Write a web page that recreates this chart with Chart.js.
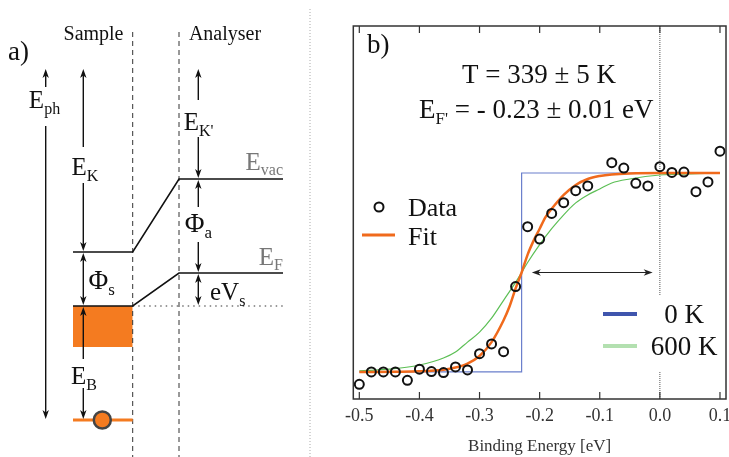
<!DOCTYPE html>
<html>
<head>
<meta charset="utf-8">
<script src="https://cdn.jsdelivr.net/npm/chart.js@4.4.1/dist/chart.umd.min.js"></script>
<style>
  html, body { margin: 0; padding: 0; background: #fff; }
  #wrap { position: relative; width: 729px; height: 457px; overflow: hidden; }
  #boxA { position: absolute; left: 0; top: 0; width: 316px; height: 457px; }
  #boxB { position: absolute; left: 316px; top: 0; width: 413px; height: 457px; }
</style>
</head>
<body>
<div id="wrap">
  <div id="boxA"><canvas id="diagram" width="316" height="457"></canvas></div>
  <div id="boxB"><canvas id="fermi" width="413" height="457"></canvas></div>
</div>
<script>
// ---- panel b: Fermi edge data ----
const bindingEnergy = [-0.50, -0.48, -0.46, -0.44, -0.42, -0.40, -0.38, -0.36, -0.34, -0.32,
                       -0.30, -0.28, -0.26, -0.24, -0.22, -0.20, -0.18, -0.16, -0.14, -0.12,
                       -0.08, -0.06, -0.04, -0.02, 0.00, 0.02, 0.04, 0.06, 0.08, 0.10];
const intensity = [-0.062, 0.0, 0.0, 0.0, -0.042, 0.014, 0.002, -0.003, 0.025, 0.010,
                   0.092, 0.141, 0.102, 0.429, 0.730, 0.668, 0.797, 0.851, 0.911, 0.935,
                   1.052, 1.025, 0.948, 0.935, 1.032, 1.003, 1.005, 0.906, 0.955, 1.110];

const fitEnergy = [-0.50, -0.44, -0.40, -0.36, -0.34, -0.32, -0.30, -0.28, -0.26, -0.25, -0.24, -0.23,
                   -0.22, -0.21, -0.20, -0.19, -0.18, -0.16, -0.14, -0.12, -0.10, -0.08, -0.05, 0.00, 0.05, 0.10];
const fitIntensity = [0.0, 0.001, 0.003, 0.011, 0.022, 0.042, 0.08, 0.15, 0.26, 0.33, 0.42, 0.50,
                      0.59, 0.66, 0.72, 0.78, 0.82, 0.89, 0.94, 0.97, 0.985, 0.993, 0.998, 1.0, 1.0, 1.0];

const hotEnergy = [-0.50, -0.45, -0.40, -0.36, -0.34, -0.32, -0.30, -0.28, -0.26, -0.24, -0.23, -0.22,
                   -0.20, -0.18, -0.16, -0.14, -0.12, -0.10, -0.08, -0.05, 0.00, 0.05, 0.10];
const hotIntensity = [0.006, 0.014, 0.035, 0.07, 0.10, 0.15, 0.20, 0.27, 0.36, 0.45, 0.50, 0.55,
                      0.64, 0.72, 0.79, 0.85, 0.89, 0.92, 0.95, 0.97, 0.99, 0.995, 1.0];

const zeroKEnergy = [-0.50, -0.23, -0.23, 0.10];
const zeroKIntensity = [0, 0, 1, 1];

const xTicks = [-0.5, -0.4, -0.3, -0.2, -0.1, 0.0, 0.1];
const shiftArrow = [-0.213, -0.012];   // from E_F' towards 0
const shiftArrowLevel = 0.5;

// ---- panel a: energy diagram (x in position units, y in energy units) ----
const eCore = 0, eBandBottom = 7.3, eFermiSample = 11.4, eVacSample = 16.8;
const eFermiAnalyser = 14.7, eVacAnalyser = 24.1, eTop = 35.2, eDashTop = 39.2;
const xLevelLeft = 7.3, xSampleEdge = 13.27, xAnalyserEdge = 17.9, xLevelRight = 28.3;
const xPhoton = 4.57, xSampleArrow = 8.33, xAnalyserArrow = 19.83, xElectron = 10.23, xSeparator = 31.0;

const ORANGE = '#f47b20';
const SERIF = '"Liberation Serif", "Times New Roman", serif';

function pts(xs, ys) { return xs.map((x, i) => ({ x: x, y: ys[i] })); }

function drawRich(ctx, x, y, parts, align, color) {
  ctx.save();
  ctx.fillStyle = color || '#111';
  ctx.textBaseline = 'alphabetic';
  let w = 0;
  parts.forEach(p => {
    ctx.font = p.size + 'px ' + SERIF;
    p.w = ctx.measureText(p.text).width;
    w += p.w;
  });
  let cx = align === 'left' ? x : align === 'right' ? x - w : x - w / 2;
  const main = parts[0].size;
  const base = y + main * 0.33;
  parts.forEach(p => {
    ctx.font = p.size + 'px ' + SERIF;
    ctx.fillText(p.text, cx, p.sub ? base + main * 0.22 : base);
    cx += p.w;
  });
  ctx.restore();
}

function headV(ctx, x, y, dir) {
  // dir -1: points up, +1: points down; tip at (x, y)
  ctx.beginPath();
  ctx.moveTo(x, y);
  ctx.lineTo(x - 3.2, y - dir * 9);
  ctx.lineTo(x, y - dir * 6.5);
  ctx.lineTo(x + 3.2, y - dir * 9);
  ctx.closePath();
  ctx.fill();
}

function headH(ctx, x, y, dir) {
  ctx.beginPath();
  ctx.moveTo(x, y);
  ctx.lineTo(x - dir * 9, y - 3.2);
  ctx.lineTo(x - dir * 6.5, y);
  ctx.lineTo(x - dir * 9, y + 3.2);
  ctx.closePath();
  ctx.fill();
}

// arrows of the diagram: x, top energy, bottom energy, label gap (energy) or null
const diagramArrows = [
  { x: xPhoton, top: eTop, bottom: eCore, gap: [29.4, 33.3] },
  { x: xSampleArrow, top: eTop, bottom: eVacSample, gap: [23.7, 27.3] },
  { x: xSampleArrow, top: eVacSample, bottom: eFermiSample, gap: null },
  { x: xSampleArrow, top: eFermiSample, bottom: eCore, gap: [3.2, 6.1] },
  { x: xAnalyserArrow, top: eTop, bottom: eVacAnalyser, gap: [28.3, 32.0] },
  { x: xAnalyserArrow, top: eVacAnalyser, bottom: eFermiAnalyser, gap: [17.8, 21.3] },
  { x: xAnalyserArrow, top: eFermiAnalyser, bottom: eFermiSample, gap: null }
];

const diagramLabels = [
  { x: 0.8, y: 36.9, align: 'left', parts: [{ text: 'a)', size: 27 }] },
  { x: 9.35, y: 38.7, align: 'center', parts: [{ text: 'Sample', size: 20 }] },
  { x: 22.5, y: 38.7, align: 'center', parts: [{ text: 'Analyser', size: 20 }] },
  { x: 4.45, y: 32.0, align: 'center', parts: [{ text: 'E', size: 25 }, { text: 'ph', size: 16, sub: true }] },
  { x: 8.5, y: 25.3, align: 'center', parts: [{ text: 'E', size: 25 }, { text: 'K', size: 16, sub: true }] },
  { x: 8.85, y: 14.0, align: 'left', parts: [{ text: 'Φ', size: 27 }, { text: 's', size: 17, sub: true }] },
  { x: 8.4, y: 4.4, align: 'center', parts: [{ text: 'E', size: 25 }, { text: 'B', size: 16, sub: true }] },
  { x: 19.85, y: 29.8, align: 'center', parts: [{ text: 'E', size: 25 }, { text: "K'", size: 16, sub: true }] },
  { x: 19.85, y: 19.7, align: 'center', parts: [{ text: 'Φ', size: 27 }, { text: 'a', size: 17, sub: true }] },
  { x: 21.0, y: 12.8, align: 'left', parts: [{ text: 'eV', size: 25 }, { text: 's', size: 16, sub: true }] },
  { x: 28.3, y: 25.85, align: 'right', color: '#777', parts: [{ text: 'E', size: 25 }, { text: 'vac', size: 16, sub: true }] },
  { x: 28.3, y: 16.35, align: 'right', color: '#777', parts: [{ text: 'E', size: 25 }, { text: 'F', size: 16, sub: true }] }
];

const diagramDecor = {
  id: 'diagramDecor',
  afterDatasetsDraw(chart) {
    const { ctx, scales: { x, y } } = chart;
    ctx.save();
    ctx.strokeStyle = '#111';
    ctx.fillStyle = '#111';
    ctx.lineWidth = 1.4;
    diagramArrows.forEach(a => {
      const px = x.getPixelForValue(a.x);
      const yTop = y.getPixelForValue(a.top);
      const yBot = y.getPixelForValue(a.bottom);
      ctx.beginPath();
      if (a.gap) {
        const g1 = y.getPixelForValue(a.gap[1]);
        const g0 = y.getPixelForValue(a.gap[0]);
        ctx.moveTo(px, yTop + 4); ctx.lineTo(px, g1);
        ctx.moveTo(px, g0); ctx.lineTo(px, yBot - 4);
      } else {
        ctx.moveTo(px, yTop + 4); ctx.lineTo(px, yBot - 4);
      }
      ctx.stroke();
      headV(ctx, px, yTop + 1, -1);
      headV(ctx, px, yBot - 1, 1);
    });
    ctx.restore();
    diagramLabels.forEach(l => {
      drawRich(ctx, x.getPixelForValue(l.x), y.getPixelForValue(l.y), l.parts, l.align, l.color);
    });
  }
};

const line = (data, color, width, extra) => Object.assign({
  type: 'line', data: data, borderColor: color, borderWidth: width,
  pointRadius: 0, fill: false, tension: 0
}, extra || {});

new Chart(document.getElementById('diagram'), {
  type: 'line',
  data: {
    datasets: [
      line([{ x: xElectron, y: eCore }], '#444', 2.5, { pointRadius: 8.5, pointBackgroundColor: ORANGE, pointBorderColor: '#444', pointBorderWidth: 2.5, showLine: false }),
      line([{ x: xLevelLeft, y: eCore }, { x: xSampleEdge, y: eCore }], ORANGE, 3),
      line([{ x: xLevelLeft, y: eVacSample }, { x: xSampleEdge, y: eVacSample }, { x: xAnalyserEdge, y: eVacAnalyser }, { x: xLevelRight, y: eVacAnalyser }], '#111', 1.6),
      line([{ x: xLevelLeft, y: eFermiSample }, { x: xSampleEdge, y: eFermiSample }, { x: xAnalyserEdge, y: eFermiAnalyser }, { x: xLevelRight, y: eFermiAnalyser }], '#111', 1.6),
      line([{ x: xSampleEdge, y: eFermiSample }, { x: xLevelRight, y: eFermiSample }], '#333', 1.2, { borderDash: [1.5, 4] }),
      line([{ x: xSampleEdge, y: -4 }, { x: xSampleEdge, y: eDashTop }], '#333', 1, { borderDash: [5, 4] }),
      line([{ x: xAnalyserEdge, y: -4 }, { x: xAnalyserEdge, y: eDashTop }], '#333', 1, { borderDash: [5, 4] }),
      line([{ x: xSeparator, y: -4 }, { x: xSeparator, y: 41.2 }], '#aaa', 1, { borderDash: [1, 2] }),
      line([{ x: xLevelLeft, y: eFermiSample }, { x: xSampleEdge, y: eFermiSample }], ORANGE, 0, { fill: { value: eBandBottom }, backgroundColor: ORANGE })
    ]
  },
  options: {
    responsive: false,
    animation: false,
    layout: { padding: 0, autoPadding: false },
    plugins: { legend: { display: false }, tooltip: { enabled: false } },
    scales: {
      x: { type: 'linear', display: false, min: 0, max: 31.6 },
      y: { type: 'linear', display: false, min: -3.7, max: 42.0 }
    }
  },
  plugins: [diagramDecor]
});

// ---- panel b chart ----
const fermiDecor = {
  id: 'fermiDecor',
  beforeDatasetsDraw(chart) {
    const { ctx, chartArea: a, scales: { x } } = chart;
    const px = x.getPixelForValue(0);
    ctx.save();
    ctx.strokeStyle = '#555';
    ctx.lineWidth = 1;
    ctx.setLineDash([1, 1]);
    ctx.beginPath(); ctx.moveTo(px, a.top); ctx.lineTo(px, a.bottom); ctx.stroke();
    ctx.restore();
  },
  afterDatasetsDraw(chart) {
    const { ctx, chartArea: a, scales: { x, y } } = chart;
    ctx.save();
    // legend box bottom right
    ctx.fillStyle = '#fff';
    ctx.fillRect(279, 295, a.right - 279 - 1, 76);
    ctx.lineWidth = 4;
    ctx.strokeStyle = '#3f55ad';
    ctx.beginPath(); ctx.moveTo(287, 314); ctx.lineTo(321, 314); ctx.stroke();
    ctx.strokeStyle = '#b3e0b0';
    ctx.beginPath(); ctx.moveTo(287, 346); ctx.lineTo(321, 346); ctx.stroke();
    // legend top left
    ctx.strokeStyle = '#f06a1c';
    ctx.lineWidth = 3;
    ctx.beginPath(); ctx.moveTo(46, 235); ctx.lineTo(79, 235); ctx.stroke();
    ctx.strokeStyle = '#111';
    ctx.lineWidth = 2;
    ctx.beginPath(); ctx.arc(63, 207, 4.5, 0, Math.PI * 2); ctx.stroke();
    // shift arrow
    const ay = y.getPixelForValue(shiftArrowLevel);
    const ax0 = x.getPixelForValue(shiftArrow[0]);
    const ax1 = x.getPixelForValue(shiftArrow[1]);
    ctx.strokeStyle = '#222';
    ctx.fillStyle = '#222';
    ctx.lineWidth = 1.2;
    ctx.beginPath(); ctx.moveTo(ax0 + 4, ay); ctx.lineTo(ax1 - 4, ay); ctx.stroke();
    headH(ctx, ax0, ay, -1);
    headH(ctx, ax1, ay, 1);
    // frame and inward ticks
    ctx.strokeStyle = '#333';
    ctx.lineWidth = 1.5;
    ctx.strokeRect(a.left, a.top, a.right - a.left, a.bottom - a.top);
    ctx.lineWidth = 1.2;
    x.ticks.forEach(t => {
      const px = x.getPixelForValue(t.value);
      ctx.beginPath();
      ctx.moveTo(px, a.bottom); ctx.lineTo(px, a.bottom - 7);
      ctx.moveTo(px, a.top); ctx.lineTo(px, a.top + 7);
      ctx.stroke();
    });
    ctx.restore();
    drawRich(ctx, 92, 207, [{ text: 'Data', size: 26 }], 'left');
    drawRich(ctx, 92, 236, [{ text: 'Fit', size: 26 }], 'left');
    drawRich(ctx, 368, 314, [{ text: '0 K', size: 27 }], 'center');
    drawRich(ctx, 368, 346, [{ text: '600 K', size: 27 }], 'center');
    drawRich(ctx, 51, 44, [{ text: 'b)', size: 27 }], 'left');
    drawRich(ctx, 223, 74, [{ text: 'T = 339 ± 5 K', size: 27 }], 'center');
    drawRich(ctx, 103, 109, [{ text: 'E', size: 27 }, { text: "F'", size: 17, sub: true }, { text: ' = - 0.23 ± 0.01 eV', size: 27 }], 'left');
  }
};

new Chart(document.getElementById('fermi'), {
  type: 'line',
  data: {
    datasets: [
      { label: 'Data', data: pts(bindingEnergy, intensity), showLine: false, pointRadius: 4.5,
        pointBorderWidth: 2, pointBorderColor: '#111', pointBackgroundColor: 'rgba(255,255,255,0)' },
      { label: 'Fit', data: pts(fitEnergy, fitIntensity), borderColor: '#f06a1c', borderWidth: 2.5,
        pointRadius: 0, cubicInterpolationMode: 'monotone' },
      { label: '0 K', data: pts(zeroKEnergy, zeroKIntensity), borderColor: '#6a7fcc', borderWidth: 1.2,
        pointRadius: 0 },
      { label: '600 K', data: pts(hotEnergy, hotIntensity), borderColor: '#5cbf55', borderWidth: 1.2,
        pointRadius: 0, cubicInterpolationMode: 'monotone' }
    ]
  },
  options: {
    responsive: false,
    animation: false,
    clip: false,
    layout: { padding: { left: 37.3, right: 3, top: 26, bottom: 0 }, autoPadding: false },
    plugins: { legend: { display: false }, tooltip: { enabled: false } },
    scales: {
      x: {
        type: 'linear', min: -0.51, max: 0.11,
        afterBuildTicks: scale => { scale.ticks = xTicks.map(v => ({ value: v })); },
        afterFit: scale => {
          scale.height = 58;
          scale.paddingLeft = 0;
          scale.paddingRight = 0;
        },
        ticks: {
          callback: v => v.toFixed(1), autoSkip: false, maxRotation: 0, padding: 6,
          color: '#333', font: { family: SERIF, size: 18 }
        },
        grid: { display: false, drawTicks: false },
        border: { display: false },
        title: { display: true, text: 'Binding Energy [eV]', color: '#333',
                 font: { family: SERIF, size: 17 }, padding: { top: 0, bottom: 0 } }
      },
      y: { type: 'linear', display: false, min: -0.136, max: 1.739 }
    }
  },
  plugins: [fermiDecor]
});
</script>
</body>
</html>
